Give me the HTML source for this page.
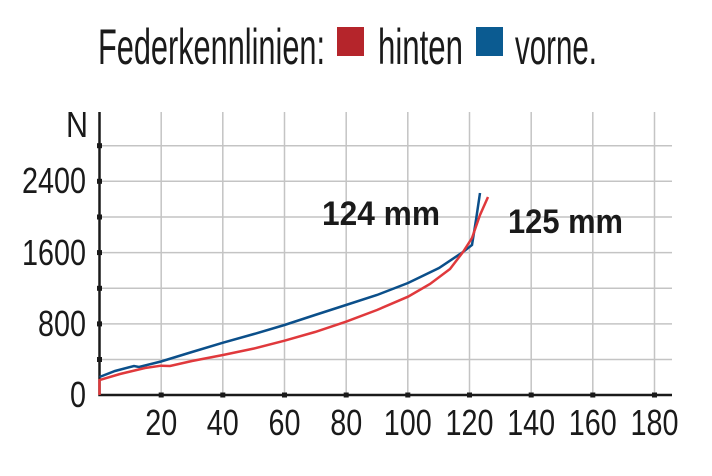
<!DOCTYPE html>
<html><head><meta charset="utf-8"><style>html,body{margin:0;padding:0;background:#fff}svg{display:block}</style></head>
<body>
<svg width="712" height="476" viewBox="0 0 712 476" xmlns="http://www.w3.org/2000/svg" font-family="Liberation Sans, sans-serif">
<rect width="712" height="476" fill="#fff"/>
<g font-size="50" fill="#1a1a1a">
<text x="98" y="64" textLength="227" lengthAdjust="spacingAndGlyphs">Federkennlinien:</text>
<rect x="337" y="27" width="27" height="29" fill="#b5252b"/>
<text x="378" y="64" textLength="85" lengthAdjust="spacingAndGlyphs">hinten</text>
<rect x="476" y="27" width="27" height="29" fill="#0b5b91"/>
<text x="515" y="64" textLength="82" lengthAdjust="spacingAndGlyphs">vorne.</text>
</g>
<g stroke="#c4c4c4" stroke-width="1.5">
<line x1="99.5" y1="145.7" x2="672" y2="145.7"/>
<line x1="99.5" y1="181.3" x2="672" y2="181.3"/>
<line x1="99.5" y1="217" x2="672" y2="217"/>
<line x1="99.5" y1="252.6" x2="672" y2="252.6"/>
<line x1="99.5" y1="288.3" x2="672" y2="288.3"/>
<line x1="99.5" y1="323.9" x2="672" y2="323.9"/>
<line x1="99.5" y1="359.5" x2="672" y2="359.5"/>
<line x1="161.2" y1="112" x2="161.2" y2="395"/>
<line x1="222.8" y1="112" x2="222.8" y2="395"/>
<line x1="284.5" y1="112" x2="284.5" y2="395"/>
<line x1="346.2" y1="112" x2="346.2" y2="395"/>
<line x1="407.8" y1="112" x2="407.8" y2="395"/>
<line x1="469.5" y1="112" x2="469.5" y2="395"/>
<line x1="531.2" y1="112" x2="531.2" y2="395"/>
<line x1="592.8" y1="112" x2="592.8" y2="395"/>
<line x1="654.5" y1="112" x2="654.5" y2="395"/>
</g>
<g stroke="#1a1a1a" stroke-width="2.5" fill="none">
<polyline points="99.5,112 99.5,395 672,395"/>
</g>
<g fill="#1a1a1a">
<rect x="97" y="143.2" width="5" height="5"/><rect x="97" y="178.8" width="5" height="5"/><rect x="97" y="214.5" width="5" height="5"/><rect x="97" y="250.1" width="5" height="5"/><rect x="97" y="285.8" width="5" height="5"/><rect x="97" y="321.4" width="5" height="5"/><rect x="97" y="357" width="5" height="5"/>
<rect x="158.7" y="392.5" width="5" height="5"/><rect x="220.3" y="392.5" width="5" height="5"/><rect x="282" y="392.5" width="5" height="5"/><rect x="343.7" y="392.5" width="5" height="5"/><rect x="405.3" y="392.5" width="5" height="5"/><rect x="467" y="392.5" width="5" height="5"/><rect x="528.7" y="392.5" width="5" height="5"/><rect x="590.3" y="392.5" width="5" height="5"/><rect x="652" y="392.5" width="5" height="5"/>
</g>
<g font-size="36" fill="#1a1a1a" text-anchor="end">
<text x="88" y="137" textLength="22" lengthAdjust="spacingAndGlyphs">N</text>
<text x="86" y="193" textLength="64" lengthAdjust="spacingAndGlyphs">2400</text>
<text x="86" y="265" textLength="64" lengthAdjust="spacingAndGlyphs">1600</text>
<text x="86" y="336" textLength="48" lengthAdjust="spacingAndGlyphs">800</text>
<text x="86" y="407" textLength="16" lengthAdjust="spacingAndGlyphs">0</text>
</g>
<g font-size="36" fill="#1a1a1a">
<text x="145.2" y="435" textLength="32" lengthAdjust="spacingAndGlyphs">20</text>
<text x="206.8" y="435" textLength="32" lengthAdjust="spacingAndGlyphs">40</text>
<text x="268.5" y="435" textLength="32" lengthAdjust="spacingAndGlyphs">60</text>
<text x="330.2" y="435" textLength="32" lengthAdjust="spacingAndGlyphs">80</text>
<text x="383.8" y="435" textLength="48" lengthAdjust="spacingAndGlyphs">100</text>
<text x="445.5" y="435" textLength="48" lengthAdjust="spacingAndGlyphs">120</text>
<text x="507.2" y="435" textLength="48" lengthAdjust="spacingAndGlyphs">140</text>
<text x="568.8" y="435" textLength="48" lengthAdjust="spacingAndGlyphs">160</text>
<text x="630.5" y="435" textLength="48" lengthAdjust="spacingAndGlyphs">180</text>
</g>
<g font-size="34" font-weight="bold" fill="#1a1a1a">
<text x="322" y="225" textLength="118" lengthAdjust="spacingAndGlyphs">124 mm</text>
<text x="508" y="233" textLength="115" lengthAdjust="spacingAndGlyphs">125 mm</text>
</g>
<polyline fill="none" stroke="#0b4f8a" stroke-width="2.5" points="99.5,377 115,371 134,366 139,367 161,361.5 192,352 223,342.7 254,334 284.5,325 315,315 346,305 377,295 408,283 439,268 463,252 472,245 476,220 480,193"/>
<polyline fill="none" stroke="#e0393c" stroke-width="2.5" points="99.5,395 99.5,380 120,374 145,368 161,365.7 170,366 192,361 223,355 254,348.5 284.5,340.7 315,332 346,321.7 377,310 408,296.7 430,284 450,269 463,252 472,238 480,215 488,197"/>
</svg>
</body></html>
